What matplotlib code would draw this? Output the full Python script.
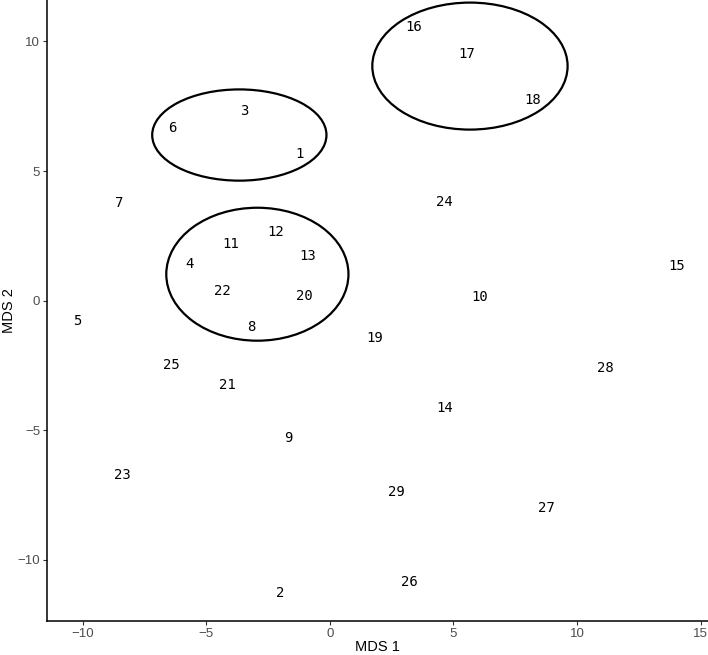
import matplotlib
matplotlib.use("Agg")
import matplotlib.pyplot as plt
from matplotlib.patches import Ellipse

# sample labels and their MDS coordinates
labels = ["1", "2", "3", "4", "5", "6", "7", "8", "9", "10",
          "11", "12", "13", "14", "15", "16", "17", "18", "19", "20",
          "21", "22", "23", "24", "25", "26", "27", "28", "29"]
mds1 = [-1.23, -2.00, -3.46, -5.69, -10.22, -6.38, -8.52, -3.18, -1.68, 6.05,
        -3.99, -2.17, -0.91, 4.64, 14.03, 3.38, 5.53, 8.20, 1.80, -1.03,
        -4.15, -4.35, -8.40, 4.64, -6.42, 3.22, 8.77, 11.15, 2.69]
mds2 = [5.64, -11.27, 7.30, 1.43, -0.77, 6.68, 3.75, -1.00, -5.29, 0.15,
        2.20, 2.66, 1.74, -4.13, 1.35, 10.54, 9.50, 7.76, -1.43, 0.19,
        -3.24, 0.39, -6.72, 3.82, -2.47, -10.85, -7.99, -2.59, -7.37]

# cluster ellipses: centre x, centre y, width, height
ell_cx = [-3.66, -2.93, 5.67]
ell_cy = [6.39, 1.02, 9.05]
ell_w = [7.05, 7.37, 7.90]
ell_h = [3.52, 5.13, 4.90]

fig = plt.figure(figsize=(7.08, 6.55), dpi=100)
ax = fig.add_axes([0.0664, 0.0519, 0.9336, 0.9481])

for x, y, s in zip(mds1, mds2, labels):
    ax.text(x, y, s, ha="center", va="center", fontsize=10,
            family="DejaVu Sans Mono", color="black")

for cx, cy, w, h in zip(ell_cx, ell_cy, ell_w, ell_h):
    ax.add_patch(Ellipse((cx, cy), w, h, fill=False, edgecolor="black", linewidth=1.6))

ax.set_xlim(-11.44, 15.3)
ax.set_ylim(-12.36, 11.6)
ax.set_xticks([-10, -5, 0, 5, 10, 15])
ax.set_yticks([-10, -5, 0, 5, 10])
ax.set_xticklabels(["\u221210", "\u22125", "0", "5", "10", "15"])
ax.set_yticklabels(["\u221210", "\u22125", "0", "5", "10"])

for side in ["top", "right"]:
    ax.spines[side].set_visible(False)
for side in ["left", "bottom"]:
    ax.spines[side].set_linewidth(1.1)
    ax.spines[side].set_color("black")

ax.tick_params(axis="both", direction="out", length=3, width=0.8, color="#333333",
               labelsize=9.5, labelcolor="#4d4d4d", pad=2)
for lab in ax.get_xticklabels() + ax.get_yticklabels():
    lab.set_family("Liberation Sans")

ax.set_xlabel("MDS 1", family="Liberation Sans", fontsize=10.5, labelpad=0)
ax.set_ylabel("MDS 2", family="Liberation Sans", fontsize=10.5, labelpad=1)

fig.savefig("out.png", dpi=100)
